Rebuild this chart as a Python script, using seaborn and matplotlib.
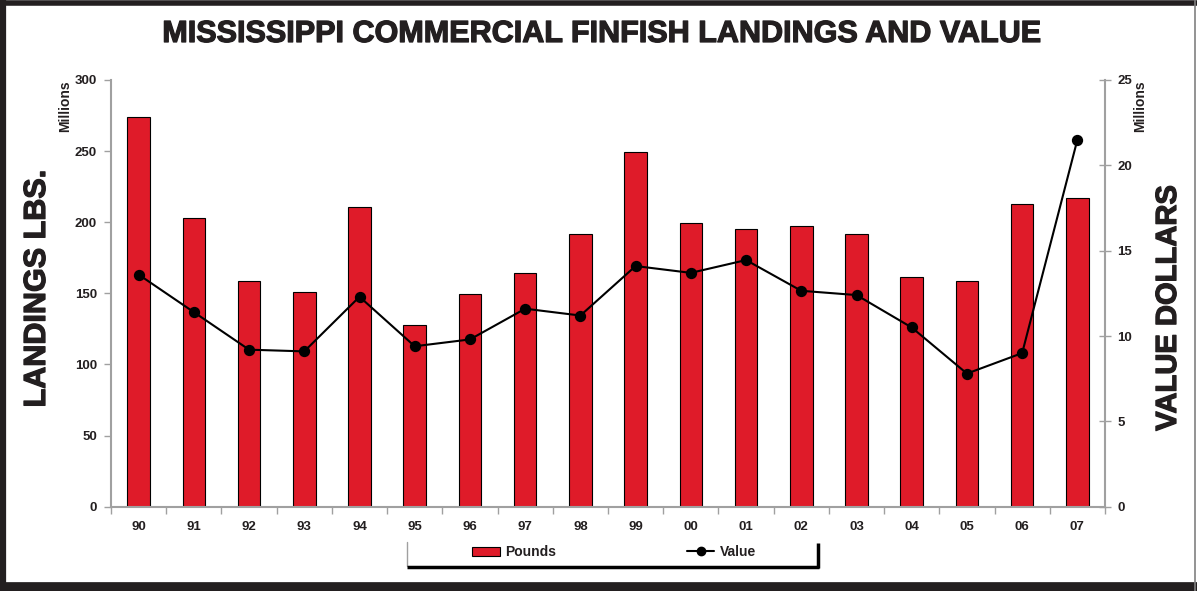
import seaborn as sns
import matplotlib.pyplot as plt
import matplotlib.patheffects as pe
from matplotlib.lines import Line2D
from matplotlib.patches import Patch
from matplotlib.ticker import FixedLocator
import numpy as np

# Data (millions)
years = ['90', '91', '92', '93', '94', '95', '96', '97', '98',
         '99', '00', '01', '02', '03', '04', '05', '06', '07']
pounds = [274, 203, 158.5, 151, 210.5, 127.5, 149.5, 164, 192,
          249.5, 199.5, 195.5, 197.5, 191.5, 161.5, 159, 213, 217]
value = [13.6, 11.4, 9.2, 9.1, 12.3, 9.4, 9.8, 11.6, 11.2,
         14.1, 13.7, 14.45, 12.65, 12.4, 10.5, 7.8, 9.0, 21.5]

RED = '#df1b29'
DARK = '#231f20'
GRAY = '#a0a0a0'

sns.set_style('white')
plt.rcParams['font.family'] = ['Liberation Sans', 'DejaVu Sans']
plt.rcParams['font.weight'] = 'bold'

W, H = 1197, 591
fig = plt.figure(figsize=(W / 100, H / 100), dpi=100)
ax = fig.add_axes([111 / W, 1 - 506.7 / H, (1105 - 111) / W, (506.7 - 80) / H])

sns.barplot(x=years, y=pounds, ax=ax, color=RED, width=0.41,
            edgecolor='black', linewidth=0.8, saturation=1, zorder=2)
ax.set_ylim(0, 300)
ax.set_yticks(np.arange(0, 301, 50))
ax.yaxis.set_minor_locator(FixedLocator([100]))
ax.grid(False)
ax.grid(True, which='minor', axis='y', color=GRAY, lw=1.5, zorder=0)
ax.set_axisbelow(True)
ax.set_xlabel('')
ax.set_ylabel('')

ax2 = ax.twinx()
sns.pointplot(x=years, y=value, ax=ax2, color='black', markers='o',
              markersize=7, linewidth=1.5)
ax2.set_ylim(0, 25)
ax2.set_yticks(np.arange(0, 26, 5))
ax2.set_ylabel('')
ax2.grid(False)
ax.set_xlim(-0.5, len(years) - 0.5)
ax2.set_xlim(-0.5, len(years) - 0.5)

for a in (ax, ax2):
    for s in a.spines.values():
        s.set_visible(False)
ax.spines['left'].set_visible(True)
ax.spines['bottom'].set_visible(True)
ax2.spines['right'].set_visible(True)
for s in (ax.spines['left'], ax.spines['bottom'], ax2.spines['right']):
    s.set_color(GRAY)
    s.set_linewidth(1.5)

ax.tick_params(axis='y', which='major', left=True, length=5, width=1, color=GRAY,
               labelsize=9.5, labelcolor=DARK, pad=5)
ax.tick_params(axis='y', which='minor', left=True, length=10, width=1.5, color=GRAY)
ax.set_xticks(np.arange(len(years)))
ax.set_xticklabels(years)
ax.xaxis.set_minor_locator(FixedLocator(np.arange(len(years) + 1) - 0.5))
ax.tick_params(axis='x', which='major', bottom=False, labelsize=9.5,
               labelcolor=DARK, pad=7)
ax.tick_params(axis='x', which='minor', bottom=True, length=5, width=1, color=GRAY)
ax2.tick_params(axis='y', right=True, direction='inout', length=8, width=1,
                color=GRAY, labelsize=9.5, labelcolor=DARK, pad=5)
for lab in ax.get_yticklabels() + ax.get_xticklabels() + ax2.get_yticklabels():
    lab.set_fontweight('bold')

# titles and axis captions
heavy = [pe.withStroke(linewidth=0.9, foreground=DARK)]
fig.text(600 / W, 1 - 34 / H, 'MISSISSIPPI COMMERCIAL FINFISH LANDINGS AND VALUE',
         ha='center', va='center', fontsize=22, fontweight='bold', color=DARK,
         path_effects=heavy)
fig.text(37 / W, 1 - 289 / H, 'LANDINGS LBS.', rotation=90, ha='center', va='center',
         fontsize=22, fontweight='bold', color=DARK, path_effects=heavy)
fig.text(1168 / W, 1 - 308 / H, 'VALUE DOLLARS', rotation=90, ha='center', va='center',
         fontsize=21, fontweight='bold', color=DARK, path_effects=heavy)
fig.text(65 / W, 1 - 106 / H, 'Millions', rotation=90, ha='center', va='center',
         fontsize=10, fontweight='bold', color=DARK)
fig.text(1140 / W, 1 - 106 / H, 'Millions', rotation=90, ha='center', va='center',
         fontsize=10, fontweight='bold', color=DARK)

# legend
handles = [Patch(facecolor=RED, edgecolor='black', linewidth=0.8),
           Line2D([], [], color='black', marker='o', markersize=6, linewidth=1.5)]
leg = fig.legend(handles, ['Pounds', 'Value'], ncol=2, frameon=False,
                 loc='center', bbox_to_anchor=(614 / W, 1 - 552 / H),
                 fontsize=10, handlelength=2.0, handleheight=0.6,
                 handletextpad=0.4, columnspacing=9.4)
for t in leg.get_texts():
    t.set_fontweight('bold')
    t.set_color(DARK)


def fline(x0, y0, x1, y1, **kw):
    fig.add_artist(Line2D([x0 / W, x1 / W], [1 - y0 / H, 1 - y1 / H],
                          transform=fig.transFigure, **kw))


fline(407, 542, 407, 566, color=GRAY, lw=1)
fline(407, 566.5, 819, 566.5, color='black', lw=2.5, solid_capstyle='butt')
fline(818, 543, 818, 567.5, color='black', lw=2.5, solid_capstyle='butt')

# outer frame
fline(0, 2.5, W, 2.5, color=DARK, lw=4, solid_capstyle='butt')
fline(3, 0, 3, H, color=DARK, lw=4.5, solid_capstyle='butt')
fline(0, 586.5, W, 586.5, color=DARK, lw=7, solid_capstyle='butt')
fline(1194.5, 0, 1194.5, H, color='#808080', lw=1.2)

fig.savefig('out.png', dpi=100)
